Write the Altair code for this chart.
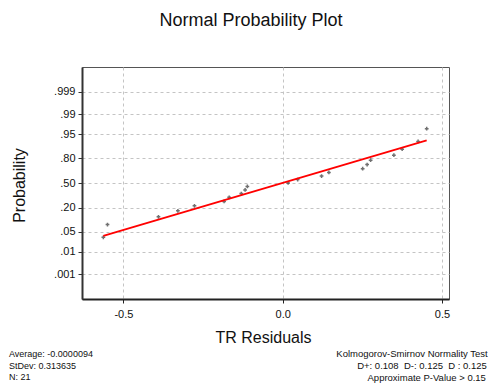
import altair as alt
import pandas as pd
from statistics import NormalDist

# ---- data ----
residuals = [-0.563, -0.550, -0.390, -0.329, -0.277, -0.184, -0.168, -0.130, -0.118, -0.111,
             0.017, 0.047, 0.122, 0.145, 0.251, 0.265, 0.276, 0.349, 0.375, 0.425, 0.452]
prob_ticks = [0.001, 0.01, 0.05, 0.20, 0.50, 0.80, 0.95, 0.99, 0.999]
prob_labels = [".001", ".01", ".05", ".20", ".50", ".80", ".95", ".99", ".999"]
x_ticks = [-0.5, 0.0, 0.5]
average = -0.0000094
stdev = 0.313635
stats_left = ["Average: -0.0000094", "StDev: 0.313635", "N: 21"]
stats_right = ["Kolmogorov-Smirnov Normality Test",
               "D+: 0.108\u00a0 D-: 0.125\u00a0 D : 0.125",
               "Approximate P-Value > 0.15"]

FONT = "Liberation Sans"
nd = NormalDist()
n = len(residuals)

# probability plot positions (median ranks) on the normal-score scale
sorted_res = sorted(residuals)
pts = pd.DataFrame({
    "x": sorted_res,
    "z": [nd.inv_cdf((i + 1 - 0.3) / (n + 0.4)) for i in range(n)],
})
fit_x = [min(residuals), max(residuals)]
fit = pd.DataFrame({"x": fit_x, "z": [(v - average) / stdev for v in fit_x]})

tick_z = [nd.inv_cdf(p) for p in prob_ticks]
label_expr = "''"
for z, lab in zip(tick_z, prob_labels):
    label_expr = f"abs(datum.value - ({z:.6f})) < 0.001 ? '{lab}' : " + label_expr

xscale = alt.Scale(domain=[-0.63, 0.522], nice=False, zero=False)
yscale = alt.Scale(domain=[-3.932, 3.932], nice=False, zero=False)

xaxis = alt.Axis(values=x_ticks, title="TR Residuals",
                 labelExpr="replace(format(datum.value, '.1f'), '\u2212', '-')",
                 labelOverlap=False,
                 grid=True, gridDash=[3, 3], gridColor="#c4c4c4", gridWidth=1,
                 domainColor="#222", domainWidth=2, tickColor="#222", tickSize=4,
                 labelFont=FONT, labelFontSize=11, labelColor="#111", labelPadding=5,
                 titleFont=FONT, titleFontSize=16, titleFontWeight="normal", titleColor="#111",
                 titleX=181, titleY=38, titleBaseline="middle", titleAnchor="start",
                 titleAlign="center")
yaxis = alt.Axis(values=tick_z, title="Probability", labelExpr=label_expr,
                 labelOverlap=False,
                 grid=True, gridDash=[3, 3], gridColor="#c4c4c4", gridWidth=1,
                 domainColor="#333", domainWidth=2, tickColor="#333", tickSize=4,
                 labelFont=FONT, labelFontSize=11, labelColor="#111", labelPadding=3,
                 titleFont=FONT, titleFontSize=16, titleFontWeight="normal", titleColor="#111",
                 titleX=-63, titleY=118, titleAngle=-90, titleBaseline="middle",
                 titleAlign="center", titleAnchor="start")

points = alt.Chart(pts).mark_point(shape="cross", filled=True, size=14, color="#333").encode(
    x=alt.X("x:Q", scale=xscale, axis=xaxis),
    y=alt.Y("z:Q", scale=yscale, axis=yaxis),
)
line = alt.Chart(fit).mark_line(color="#ff0000", strokeWidth=1.8).encode(
    x=alt.X("x:Q", scale=xscale, axis=xaxis),
    y=alt.Y("z:Q", scale=yscale, axis=yaxis),
)

def txt(s, x, y, size, align="left"):
    return alt.Chart(pd.DataFrame({"t": [s]})).mark_text(
        font=FONT, fontSize=size, align=align, baseline="middle", color="#111"
    ).encode(text="t:N", x=alt.value(x), y=alt.value(y))

layers = [points, line,
          txt("Normal Probability Plot", 169, -46, 18, "center")]
for s, y in zip(stats_left, [287, 298.5, 310]):
    layers.append(txt(s, -73, y, 9))
for s, x, y in zip(stats_right, [330, 340, 344.7], [287, 298.5, 311]):
    layers.append(txt(s, x, y, 9.5, "center"))

chart = alt.layer(*layers).properties(
    width=367, height=232,
    padding={"left": 74, "top": 59, "right": 45, "bottom": 86},
    autosize=alt.AutoSizeParams(type="none"),
).configure_view(stroke="#555", strokeWidth=1)

chart.save("out.html", embed_options={"renderer": "svg", "actions": False})
